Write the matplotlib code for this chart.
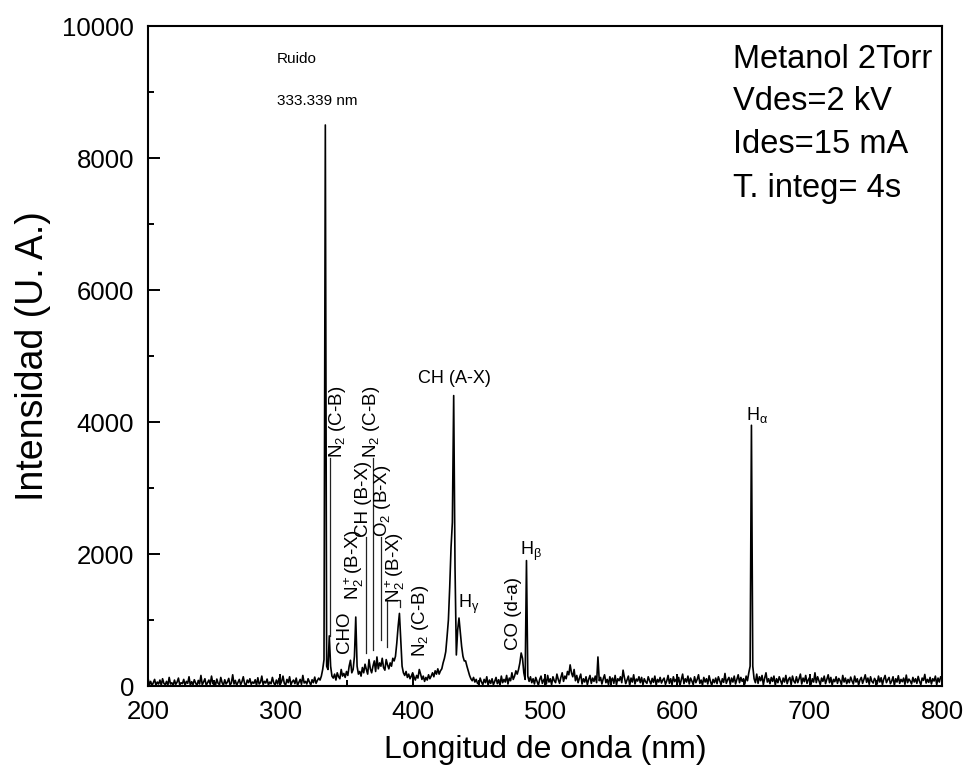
import numpy as np
import matplotlib
matplotlib.use("Agg")
import matplotlib.pyplot as plt

plt.rcParams['font.family'] = ['Liberation Sans', 'DejaVu Sans']
plt.rcParams['mathtext.fontset'] = 'custom'
plt.rcParams['mathtext.rm'] = 'Liberation Sans'
plt.rcParams['mathtext.it'] = 'Liberation Sans'
plt.rcParams['mathtext.bf'] = 'Liberation Sans:bold'

# espectro, paso de 1 nm
longitud = np.arange(200, 801)

int_200_329 = [
    120, 20, 70, 5, 50, 100, 10, 60, 30, 90,
    10, 110, 40, 20, 70, 10, 130, 30, 50, 5,
    90, 25, 60, 120, 15, 50, 35, 100, 10, 70,
    40, 140, 10, 65, 20, 95, 45, 5, 85, 30,
    160, 20, 60, 110, 10, 50, 90, 25, 150, 35,
    70, 10, 105, 40, 20, 130, 50, 10, 95, 30,
    60, 115, 15, 45, 170, 30, 85, 10, 55, 100,
    20, 65, 140, 35, 10, 90, 50, 110, 25, 60,
    40, 95, 10, 125, 30, 55, 150, 20, 70, 45,
    105, 15, 60, 35, 130, 50, 10, 90, 30, 115,
    25, 70, 150, 40, 15, 100, 50, 140, 20, 65,
    90, 35, 120, 10, 55, 100, 25, 160, 45, 70,
    30, 110, 60, 15, 95, 50, 135, 40, 85, 120,
]

int_330_449 = [
    90, 150, 250, 400, 8500, 300, 250, 760, 300, 150,
    120, 180, 90, 200, 140, 110, 250, 150, 190, 130,
    220, 160, 300, 390, 200, 250, 450, 1045, 300, 180,
    220, 150, 280, 200, 330, 250, 180, 400, 260, 200,
    300, 380, 220, 440, 260, 350, 300, 420, 280, 240,
    400, 320, 260, 350, 300, 420, 380, 450, 650, 900,
    1100, 700, 300, 200, 160, 220, 130, 180, 110, 150,
    200, 140, 90, 160, 120, 250, 180, 100, 150, 70,
    130, 90, 170, 110, 150, 200, 140, 230, 180, 260,
    180, 230, 260, 350, 420, 520, 750, 1000, 1500, 2100,
    2480, 4400, 1800, 470, 850, 1030, 820, 600, 450, 380,
    380, 300, 230, 160, 110, 80, 130, 60, 100, 40,
]

int_450_800 = [
    30, 120, 60, 20, 100, 50, 140, 10, 90, 40,
    110, 20, 70, 130, 35, 95, 10, 150, 50, 100,
    60, 160, 30, 120, 80, 200, 100, 150, 230, 180,
    250, 350, 500, 420, 200, 100, 1900, 150, 70, 140,
    50, 110, 30, 130, 70, 10, 100, 150, 40, 90,
    120, 30, 160, 60, 110, 20, 140, 80, 50, 180,
    100, 40, 130, 200, 70, 150, 110, 220, 170, 320,
    200, 140, 250, 80, 160, 50, 120, 180, 30, 110,
    60, 140, 20, 100, 160, 40, 120, 70, 150, 50,
    440, 80, 130, 30, 110, 170, 50, 100, 20, 140,
    70, 120, 40, 160, 20, 110, 80, 140, 50, 240,
    130, 35, 95, 150, 10, 120, 60, 170, 30, 105,
    75, 140, 50, 130, 20, 110, 65, 40, 140, 80,
    30, 115, 55, 150, 15, 100, 60, 130, 45, 90,
    120, 25, 75, 160, 40, 110, 20, 140, 65, 100,
    50, 130, 10, 95, 180, 35, 110, 60, 150, 30,
    120, 75, 20, 140, 50, 100, 170, 40, 90, 15,
    130, 60, 110, 30, 155, 70, 10, 100, 50, 120,
    35, 140, 80, 20, 110, 55, 190, 40, 95, 130,
    25, 120, 60, 150, 30, 100, 170, 50, 130, 70,
    110, 30, 150, 80, 200, 300, 3950, 300, 110, 50,
    180, 40, 140, 80, 160, 20, 120, 200, 60, 110,
    35, 130, 70, 150, 15, 110, 50, 140, 80, 25,
    120, 60, 160, 35, 100, 130, 20, 150, 75, 45,
    140, 50, 110, 180, 30, 120, 65, 160, 40, 95,
    130, 25, 110, 60, 200, 50, 140, 80, 20, 120,
    70, 150, 35, 105, 170, 50, 130, 15, 100, 65,
    140, 40, 115, 80, 20, 160, 60, 120, 35, 100,
    50, 135, 75, 30, 150, 60, 110, 15, 90, 130,
    40, 100, 170, 55, 120, 25, 140, 70, 45, 115,
    80, 30, 150, 60, 125, 20, 105, 160, 50, 95,
    130, 35, 75, 140, 10, 110, 60, 155, 40, 100,
    65, 120, 25, 165, 50, 105, 75, 30, 130, 60,
    110, 40, 145, 70, 20, 120, 85, 175, 45, 100,
    55, 130, 30, 110, 75, 150, 20, 120, 60, 140,
    100,
]

intensidad = np.array(int_200_329 + int_330_449 + int_450_800)

# etiquetas verticales: texto, x (nm), y inferior
etiquetas_v = [
    ('N$_2$ (C-B)', 343, 3455),
    ('CHO', 348.8, 500),
    ('N$_2^+$(B-X)', 355.5, 1300),
    ('CH (B-X)', 363, 2260),
    ('N$_2$ (C-B)', 369, 3455),
    ('O$_2$ (B-X)', 377.5, 2260),
    ('N$_2^+$(B-X)', 387, 1260),
    ('N$_2$ (C-B)', 406, 440),
    ('CO (d-a)', 476, 545),
]
# etiquetas horizontales: texto, x, y (linea base), alineacion
etiquetas_h = [
    ('CH (A-X)', 431.9, 4590, 'center'),
    ('H$_\\gamma$', 434.2, 1182, 'left'),
    ('H$_\\beta$', 481, 1985, 'left'),
    ('H$_\\alpha$', 652.1, 4030, 'left'),
]
# lineas guia
guias = [
    ([337.6, 337.6], [3455, 760]),
    ([365, 365], [2260, 500]),
    ([370, 370], [3455, 545]),
    ([375.7, 375.7], [2260, 700]),
    ([380.7, 380.7, 390.3, 390.3], [590, 1300, 1300, 1200]),
]
condiciones = ['Metanol 2Torr', 'Vdes=2 kV', 'Ides=15 mA', 'T. integ= 4s']
cond_y = [9364, 8727, 8076, 7409]

fig = plt.figure(figsize=(9.71, 7.79), dpi=100)
ax = fig.add_axes([148 / 971, 1 - 686 / 779, 794 / 971, 660 / 779])

ax.plot(longitud, intensidad, color='black', lw=1.2)

for xs, ys in guias:
    ax.plot(xs, ys, color='#222222', lw=0.9)

for txt, x, y in etiquetas_v:
    ax.text(x, y, txt, rotation=90, ha='center', va='bottom', fontsize=13.5)

for txt, x, y, ha in etiquetas_h:
    ax.text(x, y, txt, ha=ha, va='baseline', fontsize=13)

ax.text(297.2, 9440, 'Ruido', fontsize=11, va='baseline')
ax.text(297.2, 8803, '333.339 nm', fontsize=11, va='baseline')

for txt, y in zip(condiciones, cond_y):
    ax.text(642.3, y, txt, fontsize=23.5, va='baseline')

ax.set_xlim(200, 800)
ax.set_ylim(0, 10000)
ax.set_xticks([200, 300, 400, 500, 600, 700, 800])
ax.set_xticks(np.arange(250, 800, 100), minor=True)
ax.set_yticks([0, 2000, 4000, 6000, 8000, 10000])
ax.set_yticks(np.arange(1000, 10000, 2000), minor=True)
ax.tick_params(which='both', direction='in', width=1.4, labelsize=18.5, pad=10)
ax.tick_params(which='major', length=8.6)
ax.tick_params(which='minor', length=4.3)
for s in ax.spines.values():
    s.set_linewidth(1.5)

ax.set_xlabel('Longitud de onda (nm)', fontsize=23, labelpad=8)
ax.set_ylabel('Intensidad (U. A.)', fontsize=27, labelpad=8)

fig.savefig('out.png', dpi=100)
